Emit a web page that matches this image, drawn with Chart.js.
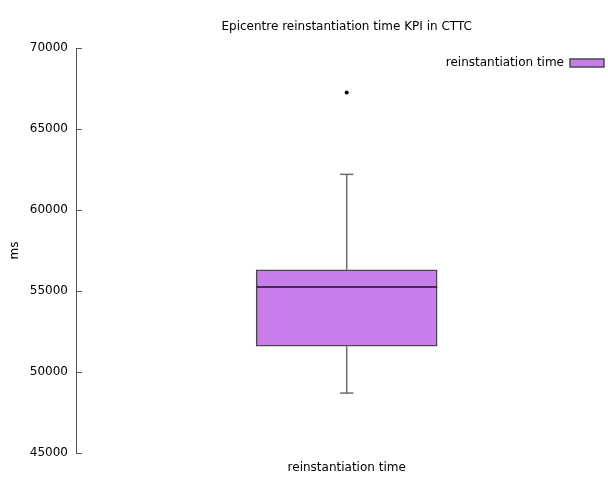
<!DOCTYPE html>
<html><head><meta charset="utf-8">
<script src="https://cdn.jsdelivr.net/npm/chart.js@4.4.0/dist/chart.umd.min.js"></script>
<style>html,body{margin:0;padding:0;background:#fff}</style>
</head><body>
<canvas id="c" width="608" height="479"></canvas>
<script>
const chartTitle = 'Epicentre reinstantiation time KPI in CTTC';
const yTitle = 'ms';
const categories = ['reinstantiation time'];
const seriesName = 'reinstantiation time';
const yTicks = [45000, 50000, 55000, 60000, 65000, 70000];
const whiskerLow = [48700];
const q1 = [51600];
const median = [55250];
const q3 = [56300];
const whiskerHigh = [62200];
const outliers = [[67250]];

const BOX_HALF = 0.1672;
const CAP_HALF = 0.0124;
const AXIS_COLOR = '#555555';

Chart.defaults.font.family = 'DejaVu Sans';
Chart.defaults.font.size = 12;
Chart.defaults.color = '#000';

const datasets = [];
datasets.push({
  type: 'bar', label: seriesName, order: 5,
  data: categories.map((c, i) => ({x: i + 1, y: [q1[i], q3[i]]})),
  backgroundColor: '#c87eea', borderColor: '#4a4a4a', borderWidth: 1.5,
  borderSkipped: false, barThickness: 181
});
categories.forEach((c, i) => {
  const x = i + 1;
  const seg = (pts, color, w) => datasets.push({
    type: 'line', label: '_', data: pts, borderColor: color, borderWidth: w,
    pointRadius: 0, fill: false, tension: 0, order: 1
  });
  seg([{x, y: q3[i]}, {x, y: whiskerHigh[i]}], '#6e6e6e', 1.5);
  seg([{x, y: whiskerLow[i]}, {x, y: q1[i]}], '#6e6e6e', 1.5);
  seg([{x: x - CAP_HALF, y: whiskerHigh[i]}, {x: x + CAP_HALF, y: whiskerHigh[i]}], '#6e6e6e', 1.5);
  seg([{x: x - CAP_HALF, y: whiskerLow[i]}, {x: x + CAP_HALF, y: whiskerLow[i]}], '#6e6e6e', 1.5);
  seg([{x: x - BOX_HALF, y: median[i]}, {x: x + BOX_HALF, y: median[i]}], '#4b2a5a', 2);
  datasets.push({
    type: 'scatter', label: '_', data: outliers[i].map(v => ({x, y: v})), order: 1,
    pointRadius: 2, pointBackgroundColor: '#000', pointBorderWidth: 0
  });
});

const layoutTweaks = {
  id: 'layoutTweaks',
  beforeDraw(chart) {
    // legend sits inside the top of the plot area without taking layout space
    const lg = chart.legend;
    if (lg) {
      lg.top = chart.chartArea.top + 5; lg.height = 30; lg.bottom = lg.top + 30;
      lg.right = chart.width; lg.width = lg.right - lg.left;
    }
    // centre the title over the category
    const t = chart.scales.x2, c = chart.scales.x.getPixelForValue(1);
    const half = c - t.left;
    t.right = c + half; t.width = 2 * half;
  },
  afterDatasetsDraw(chart) {
    const y = chart.scales.y, ctx = chart.ctx, left = chart.chartArea.left;
    ctx.save();
    ctx.strokeStyle = AXIS_COLOR; ctx.lineWidth = 1;
    y.ticks.forEach(t => {
      const py = Math.round(y.getPixelForValue(t.value)) + 0.5;
      ctx.beginPath(); ctx.moveTo(left, py); ctx.lineTo(left + 6, py); ctx.stroke();
    });
    ctx.restore();
  }
};

new Chart(document.getElementById('c'), {
  data: {datasets},
  plugins: [layoutTweaks],
  options: {
    responsive: false, animation: false,
    layout: {padding: 0},
    plugins: {
      tooltip: {enabled: false},
      title: {display: false},
      legend: {
        position: 'top', align: 'start', rtl: true, weight: -1, maxHeight: 0.001,
        labels: {
          filter: item => item.datasetIndex === 0,
          boxWidth: 34, boxHeight: 8, padding: 4, color: '#000',
          font: {size: 12}
        }
      }
    },
    scales: {
      x: {
        type: 'linear', position: 'bottom', min: 0.5, max: 1.4753, offset: false,
        afterBuildTicks: s => { s.ticks = categories.map((c, i) => ({value: i + 1})); },
        afterFit: s => { s.height = 26; },
        ticks: {callback: v => categories[Math.round(v) - 1] || '', padding: 8, color: '#000', maxRotation: 0, autoSkip: false},
        grid: {display: false, drawTicks: false, offset: false},
        border: {display: false}
      },
      x2: {
        type: 'linear', position: 'top', min: 0.5, max: 1.4753, offset: false,
        afterFit: s => { s.height = 48; },
        ticks: {display: false},
        grid: {display: false, drawTicks: false},
        border: {display: false},
        title: {display: true, text: chartTitle, color: '#000', font: {size: 12}, padding: {top: 20, bottom: 0}}
      },
      y: {
        type: 'linear', position: 'left', min: 45000, max: 70000,
        afterBuildTicks: s => { s.ticks = yTicks.map(v => ({value: v})); },
        afterFit: s => { s.width = 76; },
        ticks: {padding: 8, color: '#000', callback: v => String(v)},
        grid: {display: false, drawTicks: false},
        border: {display: true, color: AXIS_COLOR, width: 1},
        title: {display: true, text: yTitle, color: '#000', font: {size: 12}, padding: {top: 8, bottom: 0}}
      }
    }
  }
});
</script>
</body></html>
